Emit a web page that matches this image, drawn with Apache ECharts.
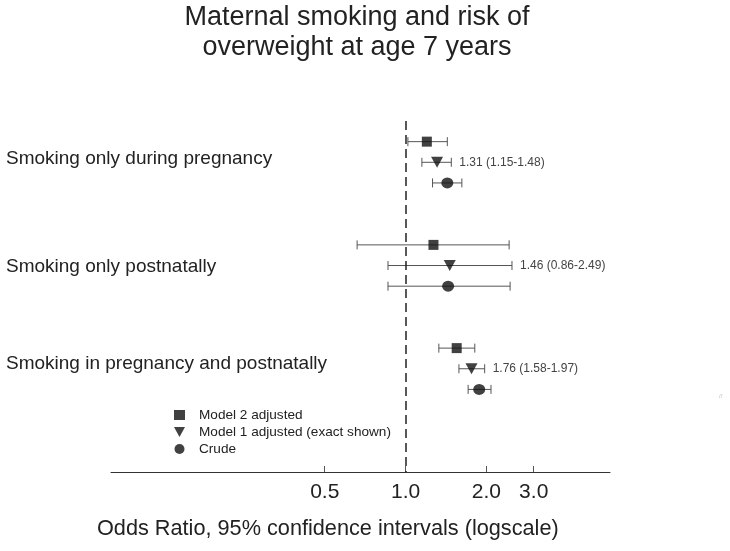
<!DOCTYPE html>
<html>
<head>
<meta charset="utf-8">
<script src="https://cdn.jsdelivr.net/npm/echarts@6/dist/echarts.min.js"></script>
<style>html,body{margin:0;padding:0;background:#fff;}#c{width:730px;height:551px;}</style>
</head>
<body>
<div id="c"></div>
<script>
// ---- data ----
var categories = ['Smoking only during pregnancy', 'Smoking only postnatally', 'Smoking in pregnancy and postnatally'];
var seriesNames = ['Model 2 adjusted', 'Model 1 adjusted (exact shown)', 'Crude'];
// odds ratios per category, per model
var model2OR = [1.20, 1.27, 1.55];
var model2Lo = [1.02, 0.66, 1.33];
var model2Hi = [1.43, 2.43, 1.81];
var model1OR = [1.31, 1.46, 1.76];
var model1Lo = [1.15, 0.86, 1.58];
var model1Hi = [1.48, 2.49, 1.97];
var crudeOR = [1.43, 1.44, 1.88];
var crudeLo = [1.26, 0.86, 1.71];
var crudeHi = [1.62, 2.45, 2.08];
var tickValues = [0.5, 1.0, 2.0, 3.0];
var tickLabels = ['0.5', '1.0', '2.0', '3.0'];
var referenceOR = 1.0;
var xRange = [0.08, 5.77];

// ---- layout helpers (row positions on the y axis) ----
var groupRows = [0, 5, 10];           // first row of each category group
var rowOffset = [0, 1, 2];             // model2, model1, crude
var catLabelRows = [0.85, 6.05, 10.75];
var FONT = 'Liberation Sans';
function lg(v) { return Math.log10(v); }

var models = [
  {name: seriesNames[0], or: model2OR, lo: model2Lo, hi: model2Hi, symbol: 'rect', label: false},
  {name: seriesNames[1], or: model1OR, lo: model1Lo, hi: model1Hi, symbol: 'path://M0,0 L10,0 L5,9 Z', label: true},
  {name: seriesNames[2], or: crudeOR, lo: crudeLo, hi: crudeHi, symbol: 'circle', label: false}
];

var series = [];
models.forEach(function (m, mi) {
  var barData = [];
  var ptData = [];
  for (var i = 0; i < categories.length; i++) {
    var row = groupRows[i] + rowOffset[mi];
    var txt = m.label ? (m.or[i].toFixed(2) + ' (' + m.lo[i].toFixed(2) + '-' + m.hi[i].toFixed(2) + ')') : '';
    barData.push({value: [lg(m.lo[i]), lg(m.hi[i]), row], txt: txt});
    ptData.push([lg(m.or[i]), row]);
  }
  series.push({
    type: 'custom',
    name: m.name + ' CI',
    silent: true,
    z: 2,
    data: barData,
    encode: {x: [0, 1], y: 2},
    renderItem: function (params, api) {
      var y = api.value(2);
      var p1 = api.coord([api.value(0), y]);
      var p2 = api.coord([api.value(1), y]);
      var h = 4.5;
      var st = {stroke: '#555', lineWidth: 1};
      var ch = [
        {type: 'line', shape: {x1: p1[0], y1: p1[1], x2: p2[0], y2: p2[1]}, style: st},
        {type: 'line', shape: {x1: p1[0], y1: p1[1] - h, x2: p1[0], y2: p1[1] + h}, style: st},
        {type: 'line', shape: {x1: p2[0], y1: p2[1] - h, x2: p2[0], y2: p2[1] + h}, style: st}
      ];
      var t = barData[params.dataIndex].txt;
      if (t) {
        ch.push({type: 'text', x: p2[0] + 8, y: p2[1], style: {text: t, fill: '#444', fontSize: 12, fontFamily: FONT, verticalAlign: 'middle', align: 'left'}});
      }
      return {type: 'group', children: ch};
    }
  });
  series.push({
    type: 'scatter',
    name: m.name,
    symbol: m.symbol,
    symbolSize: m.symbol === 'rect' ? 10 : [12, 11],
    itemStyle: {color: '#111'},
    z: 3,
    data: ptData
  });
});
// reference line at OR = 1
series[1].markLine = {
  silent: true, symbol: 'none', label: {show: false},
  lineStyle: {color: '#222', type: [9, 5], width: 1.5},
  data: [{xAxis: lg(referenceOR)}]
};

var chart = echarts.init(document.getElementById('c'));
chart.setOption({
  animation: false,
  backgroundColor: '#fff',
  title: {
    text: 'Maternal smoking and risk of\noverweight at age 7 years',
    left: 352, top: -2, textAlign: 'center',
    textStyle: {fontFamily: FONT, fontSize: 27, fontWeight: 'normal', color: '#222', lineHeight: 30}
  },
  legend: {
    orient: 'vertical', left: 169, top: 403,
    itemWidth: 11, itemHeight: 10, itemGap: 3,
    data: [
      {name: seriesNames[0], icon: 'rect'},
      {name: seriesNames[1], icon: 'path://M0,0 L10,0 L5,9 Z'},
      {name: seriesNames[2], icon: 'circle'}
    ],
    textStyle: {fontFamily: FONT, fontSize: 13.6, color: '#222', padding: [0, 0, 0, 9]}
  },
  grid: {left: 111, right: 120, top: 121, bottom: 79, containLabel: false},
  xAxis: {
    type: 'value', min: lg(xRange[0]), max: lg(xRange[1]),
    splitLine: {show: false},
    axisLine: {show: true, onZero: false, lineStyle: {color: '#333', width: 1}},
    axisTick: {show: true, inside: true, length: 6, customValues: tickValues.map(lg), lineStyle: {color: '#555'}},
    axisLabel: {
      customValues: tickValues.map(lg), margin: 10,
      fontFamily: FONT, fontSize: 21, color: '#222',
      formatter: function (v) {
        for (var i = 0; i < tickValues.length; i++) if (Math.abs(lg(tickValues[i]) - v) < 1e-6) return tickLabels[i];
        return '';
      }
    }
  },
  yAxis: {
    type: 'value', inverse: true, min: -1, max: 16,
    splitLine: {show: false}, axisLine: {show: false}, axisTick: {show: false},
    axisLabel: {
      customValues: catLabelRows, align: 'left', margin: 105,
      fontFamily: FONT, fontSize: 19, color: '#222',
      formatter: function (v) {
        for (var i = 0; i < catLabelRows.length; i++) if (Math.abs(catLabelRows[i] - v) < 1e-6) return categories[i];
        return '';
      }
    }
  },
  graphic: [
    {type: 'text', left: 97, top: 518, style: {text: 'Odds Ratio, 95% confidence intervals (logscale)', fontFamily: FONT, fontSize: 21.7, fill: '#222'}},
    {type: 'text', left: 719, top: 393, style: {text: '//', fontFamily: FONT, fontSize: 6, fill: '#bbb'}}
  ],
  series: series
});
</script>
</body>
</html>
